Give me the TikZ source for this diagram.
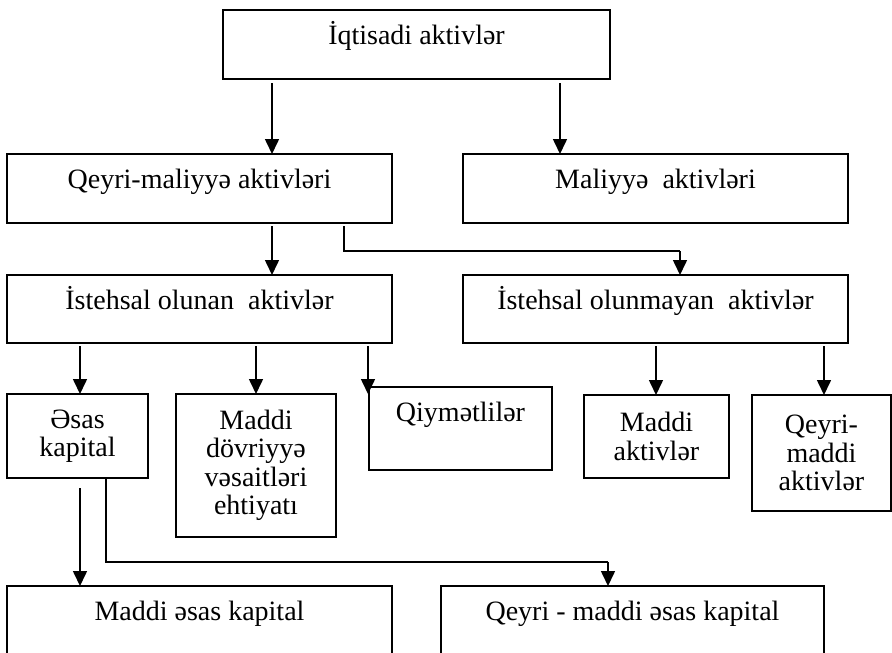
\documentclass[tikz,border=0pt]{standalone}
\usepackage{fontspec}
\setmainfont{Liberation Serif}
\usepackage{tikz}
\usetikzlibrary{arrows.meta}

\begin{document}
\begin{tikzpicture}[x=1pt, y=-1pt,
		box/.style={draw, line width=1.6pt, anchor=north west, inner sep=0pt, outer sep=0pt,
			font=\fontsize{28}{28.5}\selectfont, text height=34pt},
		mbox/.style={draw, line width=1.6pt, anchor=north west, inner sep=0pt, outer sep=0pt,
			font=\fontsize{28}{28.5}\selectfont, align=center},
		arr/.style={line width=1.6pt, -{Triangle[length=15pt, width=14pt]}},
		conn/.style={line width=1.6pt}]
		\clip (0,0) rectangle (892,653);
		% top levels
		\node[box, minimum width=387pt, text depth=35pt] (iqt) at (223,10) {İqtisadi aktivlər};
		\node[box, minimum width=385pt, text depth=35pt] (qm) at (7,154) {Qeyri-maliyyə aktivləri};
		\node[box, minimum width=385pt, text depth=35pt] (mal) at (463,154) {Maliyyə~ aktivləri};
		\node[box, minimum width=385pt, text depth=34pt] (ist) at (7,275) {İstehsal olunan~ aktivlər};
		\node[box, minimum width=385pt, text depth=34pt] (istn) at (463,275) {İstehsal olunmayan~ aktivlər};
		% fourth row
		\node[mbox, minimum width=141pt, minimum height=84pt] (esas) at (7,394) {Əsas\\kapital};
		\node[mbox, minimum width=160pt, minimum height=143pt] (dov) at (176,394) {Maddi\\dövriyyə\\vəsaitləri\\ehtiyatı};
		\node[box, minimum width=183pt, text depth=49pt] (qiy) at (369,387) {Qiymətlilər};
		\node[mbox, minimum width=145pt, minimum height=83pt] (mad) at (584,395) {Maddi\\aktivlər};
		\node[mbox, minimum width=139pt, minimum height=116pt] (qmad) at (752,395) {Qeyri-\\maddi\\aktivlər};
		% bottom row
		\node[box, minimum width=385pt, text depth=80pt] (mek) at (7,586) {Maddi əsas kapital};
		\node[box, minimum width=383pt, text depth=80pt] (qmek) at (441,586) {Qeyri - maddi əsas kapital};
		% arrows
		\draw[arr] ([shift={(49pt,-4pt)}]iqt.south west) coordinate (a1) -- (a1 |- qm.north);
		\draw[arr] ([shift={(337pt,-4pt)}]iqt.south west) coordinate (a2) -- (a2 |- mal.north);
		\draw[arr] ([shift={(265pt,-3pt)}]qm.south west) coordinate (a3) -- (a3 |- ist.north);
		\coordinate (b1) at ([shift={(337pt,-3pt)}]qm.south west);
		\coordinate (b2) at ([shift={(217pt,24pt)}]istn.north west);
		\draw[conn] (b1) |- (b2);
		\draw[arr] (b2) -- (b2 |- istn.north);
		\draw[arr] ([shift={(73pt,-3pt)}]ist.south west) coordinate (a4) -- (a4 |- esas.north);
		\draw[arr] ([shift={(249pt,-3pt)}]ist.south west) coordinate (a5) -- (a5 |- dov.north);
		\draw[arr] ([shift={(361pt,-3pt)}]ist.south west) coordinate (a6) -- (a6 |- esas.north);
		\draw[arr] ([shift={(193pt,-3pt)}]istn.south west) coordinate (a7) -- (a7 |- mad.north);
		\draw[arr] ([shift={(361pt,-3pt)}]istn.south west) coordinate (a8) -- (a8 |- qmad.north);
		\draw[arr] ([shift={(73pt,-10pt)}]esas.south west) coordinate (a9) -- (a9 |- mek.north);
		\coordinate (c1) at ([shift={(99pt,-1pt)}]esas.south west);
		\coordinate (c2) at ([shift={(167pt,24pt)}]qmek.north west);
		\draw[conn] (c1) |- (c2);
		\draw[arr] (c2) -- (c2 |- qmek.north);
\end{tikzpicture}
\end{document}
